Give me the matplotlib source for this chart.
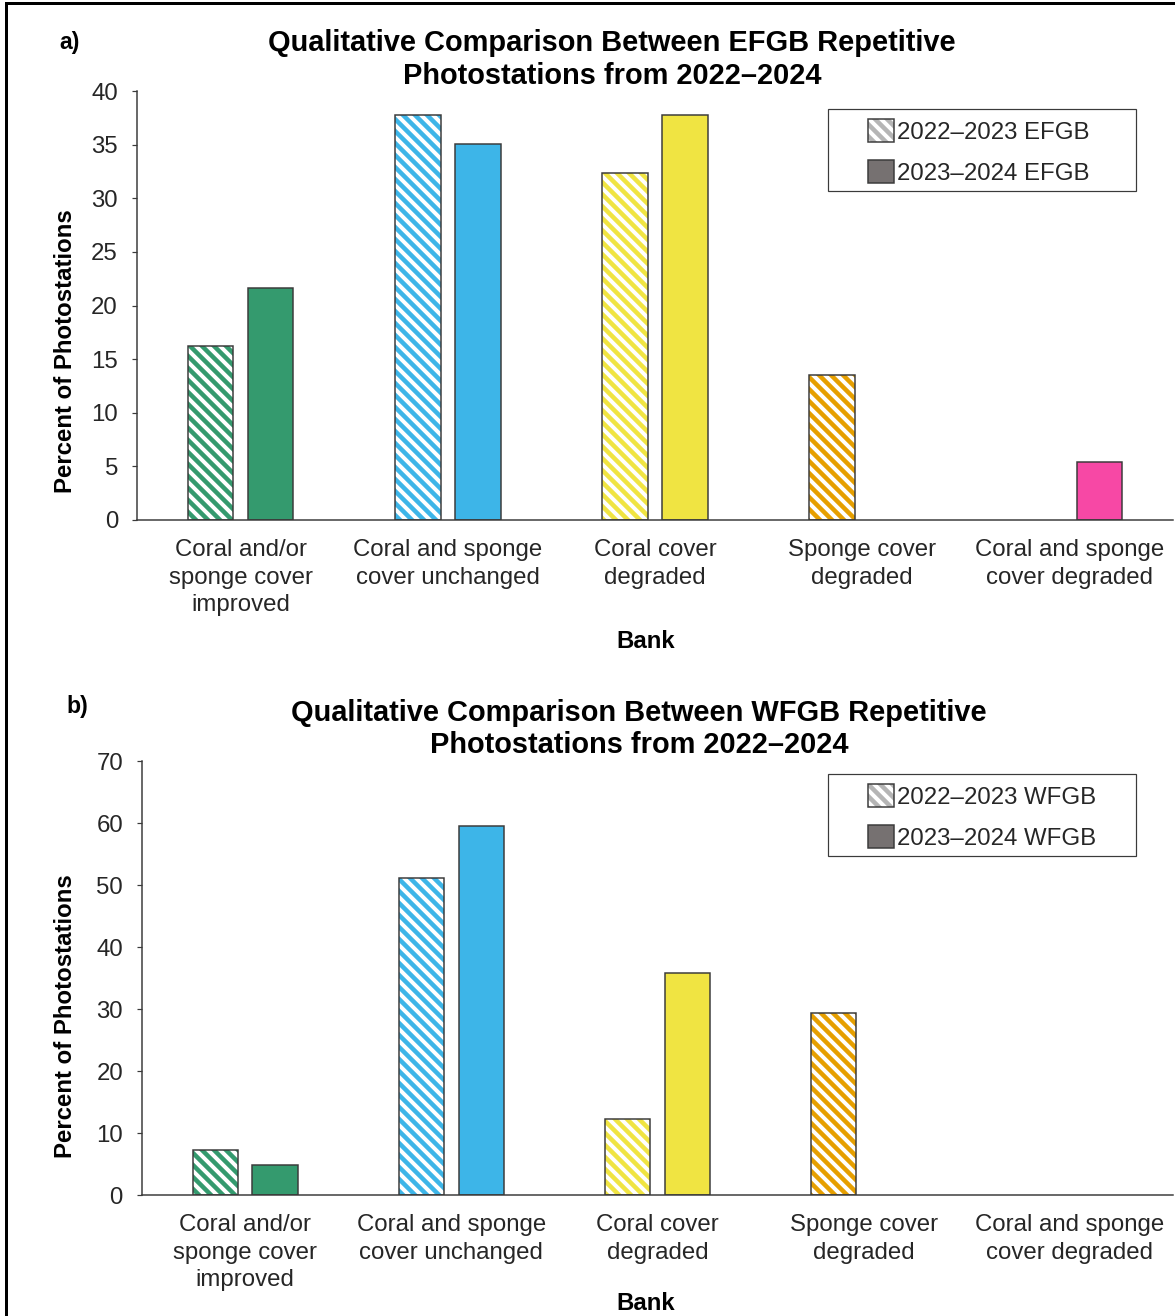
import matplotlib
matplotlib.use("Agg")
import matplotlib.pyplot as plt
import matplotlib.patches as mpatches
import numpy as np

plt.rcParams['font.family'] = ['Liberation Sans', 'DejaVu Sans']
plt.rcParams['hatch.linewidth'] = 4.5

categories = ["Coral and/or\nsponge cover\nimproved", "Coral and sponge\ncover unchanged",
              "Coral cover\ndegraded", "Sponge cover\ndegraded", "Coral and sponge\ncover degraded"]
colors = ["#349a6e", "#3db5e8", "#f0e442", "#e69f00", "#f748a5"]

efgb_2223 = [16.2, 37.8, 32.4, 13.5, 0]
efgb_2324 = [21.6, 35.1, 37.8, 0, 5.4]
wfgb_2223 = [7.3, 51.2, 12.2, 29.3, 0]
wfgb_2324 = [4.9, 59.5, 35.8, 0, 0]

W, H = 1175, 1316
fig = plt.figure(figsize=(W / 72, H / 72), dpi=72)
txt = "#262626"
edge = "#3a3a3a"


def draw_panel(ax, v1, v2, ymax, step, site, box_top):
    x = np.arange(len(categories))
    w = 0.22
    off = 0.145
    for i in range(len(categories)):
        if v1[i] > 0:
            ax.bar(x[i] - off, v1[i], w, color="white", edgecolor=colors[i], hatch="\\\\", lw=0)
            ax.bar(x[i] - off, v1[i], w, fill=False, edgecolor=edge, lw=1.5)
        if v2[i] > 0:
            ax.bar(x[i] + off, v2[i], w, color=colors[i], edgecolor=edge, lw=1.5)
    ax.set_xlim(-0.5, len(categories) - 0.5)
    ax.set_ylim(0, ymax)
    ax.set_yticks(np.arange(0, ymax + 1, step))
    ax.set_xticks(x)
    ax.set_xticklabels(categories, fontsize=24, color=txt, linespacing=1.33)
    ax.tick_params(axis="x", length=0, pad=19)
    ax.tick_params(axis="y", length=5, width=1.2, pad=14, labelsize=24, labelcolor=txt, color=edge)
    for s in ["top", "right"]:
        ax.spines[s].set_visible(False)
    for s in ["left", "bottom"]:
        ax.spines[s].set_linewidth(1.5)
        ax.spines[s].set_color(edge)

    # legend box drawn separately (wide padding as in the original)
    fig.add_artist(mpatches.Rectangle((828 / W, 1 - (box_top + 82) / H), 308 / W, 82 / H,
                                      transform=fig.transFigure, fill=False, edgecolor=edge, lw=1.2))
    h1 = (mpatches.Patch(facecolor="white", edgecolor="#b5b5b5", hatch="\\\\", lw=0),
          mpatches.Patch(fill=False, edgecolor=edge, lw=1.5))
    h2 = mpatches.Patch(facecolor="#767171", edgecolor=edge, lw=1.5)
    leg = fig.legend([h1, h2], ["2022\u20132023 " + site, "2023\u20132024 " + site],
                     loc="upper left", bbox_to_anchor=(868 / W, 1 - (box_top + 10) / H),
                     bbox_transform=fig.transFigure,
                     fontsize=24, handlelength=1.1, handleheight=1.1, handletextpad=0.1,
                     labelspacing=0.68, borderpad=0, borderaxespad=0, frameon=False)
    for t in leg.get_texts():
        t.set_color(txt)


ax1 = fig.add_axes([137 / W, 1 - 520 / H, 1036 / W, 429 / H])
draw_panel(ax1, efgb_2223, efgb_2324, 40, 5, "EFGB", 109)
ax2 = fig.add_axes([142 / W, 1 - 1195 / H, 1031 / W, 434 / H])
draw_panel(ax2, wfgb_2223, wfgb_2324, 70, 10, "WFGB", 774)

fig.text(612 / W, 1 - 59.5 / H, "Qualitative Comparison Between EFGB Repetitive\nPhotostations from 2022\u20132024",
         ha="center", va="center", fontsize=29, fontweight="bold", linespacing=1.2)
fig.text(639 / W, 1 - 729 / H, "Qualitative Comparison Between WFGB Repetitive\nPhotostations from 2022\u20132024",
         ha="center", va="center", fontsize=29, fontweight="bold", linespacing=1.2)
fig.text(70 / W, 1 - 42 / H, "a)", ha="center", va="center", fontsize=23, fontweight="bold")
fig.text(77 / W, 1 - 706 / H, "b)", ha="center", va="center", fontsize=23, fontweight="bold")
fig.text(66 / W, 1 - 351 / H, "Percent of Photostations", rotation=90, ha="center", va="center",
         fontsize=24, fontweight="bold")
fig.text(66 / W, 1 - 1016 / H, "Percent of Photostations", rotation=90, ha="center", va="center",
         fontsize=24, fontweight="bold")
fig.text(646 / W, 1 - 641 / H, "Bank", ha="center", va="center", fontsize=24, fontweight="bold")
fig.text(646 / W, 1 - 1304 / H, "Bank", ha="center", va="center", fontsize=24, fontweight="bold")

# outer frame (left and top visible)
fig.add_artist(plt.Line2D([6 / W, 6 / W], [0, 1 - 3 / H], color="black", lw=3))
fig.add_artist(plt.Line2D([6 / W, 1], [1 - 3 / H, 1 - 3 / H], color="black", lw=3))

fig.savefig("out.png", dpi=72, facecolor="white")
